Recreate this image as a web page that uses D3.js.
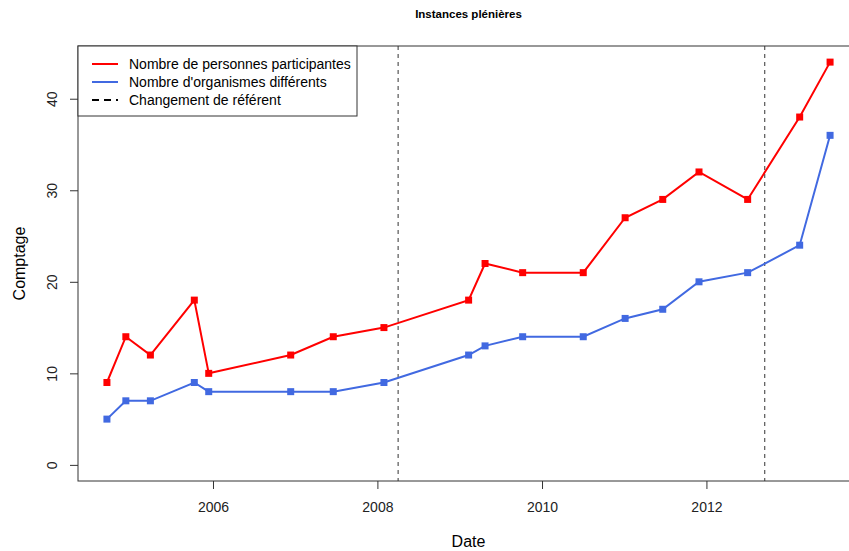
<!DOCTYPE html>
<html>
<head>
<meta charset="utf-8">
<script src="https://cdn.jsdelivr.net/npm/d3@7"></script>
<style>
  html, body { margin: 0; padding: 0; background: #fff; }
  svg { display: block; font-family: "Liberation Sans", Arial, sans-serif; }
</style>
</head>
<body>
<script>
// ---- Data ----
const dates = ["2004-09-17","2004-12-10","2005-03-29","2005-10-10","2005-12-13","2006-12-12",
  "2007-06-19","2008-01-30","2009-02-09","2009-04-23","2009-10-07","2010-07-03",
  "2011-01-05","2011-06-21","2011-11-29","2012-07-02","2013-02-18","2013-07-03"];
const participants = [9,14,12,18,10,12,14,15,18,22,21,21,27,29,32,29,38,44];
const organismes   = [5,7,7,9,8,8,8,9,12,13,14,14,16,17,20,21,24,36];
const changeDates = ["2008-04-02","2012-09-16"];
const xTickYears = [2006, 2008, 2010, 2012];
const yTicks = [0, 10, 20, 30, 40];
const legendLabels = ["Nombre de personnes participantes","Nombre d'organismes différents","Changement de référent"];
const title = "Instances plénières";
const xLabel = "Date";
const yLabel = "Comptage";

// ---- Layout ----
const W = 849, H = 551;
const plot = {left: 78, right: 859, top: 46, bottom: 481};
const parse = d3.timeParse("%Y-%m-%d");
const pts = dates.map((d, i) => ({date: parse(d), p: participants[i], o: organismes[i]}));
const changes = changeDates.map(parse);

// R-style 4% extension
const ext = d3.extent(pts, d => +d.date);
const pad = (ext[1] - ext[0]) * 0.04;
const x = d3.scaleTime().domain([new Date(ext[0] - pad), new Date(ext[1] + pad)])
  .range([plot.left, plot.right]);
const yMax = d3.max(participants), yMin = 0;
const ypad = (yMax - yMin) * 0.04;
const y = d3.scaleLinear().domain([yMin - ypad, yMax + ypad]).range([plot.bottom, plot.top]);

const svg = d3.select("body").append("svg").attr("width", W).attr("height", H);

// title
svg.append("text").attr("x", (plot.left + plot.right) / 2).attr("y", 18)
  .attr("text-anchor", "middle").attr("font-weight", "bold").attr("font-size", 11.5)
  .attr("fill", "#000").text(title);

// axes
const xAxis = d3.axisBottom(x)
  .tickValues(xTickYears.map(yr => new Date(yr, 0, 1)))
  .tickFormat(d3.timeFormat("%Y")).tickSize(8).tickPadding(13);
const gx = svg.append("g").attr("transform", `translate(0,${plot.bottom})`).call(xAxis);
gx.select(".domain").remove();
gx.selectAll("text").attr("font-size", 14).attr("fill", "#222").attr("font-family", "Liberation Sans, Arial, sans-serif");
gx.selectAll("line").attr("stroke", "#333");

const yAxis = d3.axisLeft(y).tickValues(yTicks).tickSize(8).tickPadding(0);
const gy = svg.append("g").attr("transform", `translate(${plot.left},0)`).call(yAxis);
gy.select(".domain").remove();
gy.selectAll("line").attr("stroke", "#333");
gy.selectAll("text").remove();
gy.selectAll(".tick").append("text")
  .attr("transform", "translate(-21,0) rotate(-90)")
  .attr("text-anchor", "middle").attr("dy", 0)
  .attr("font-size", 14).attr("fill", "#222")
  .attr("font-family", "Liberation Sans, Arial, sans-serif")
  .text(d => d);

// box
svg.append("rect").attr("x", plot.left).attr("y", plot.top)
  .attr("width", plot.right - plot.left).attr("height", plot.bottom - plot.top)
  .attr("fill", "none").attr("stroke", "#333").attr("stroke-width", 1);

// axis labels
svg.append("text").attr("x", (plot.left + plot.right) / 2).attr("y", 547)
  .attr("text-anchor", "middle").attr("font-size", 16).attr("fill", "#000").text(xLabel);
svg.append("text").attr("transform", `translate(25,${(plot.top + plot.bottom) / 2}) rotate(-90)`)
  .attr("text-anchor", "middle").attr("font-size", 16).attr("fill", "#000").text(yLabel);

// vertical dashed lines
svg.selectAll("line.chg").data(changes).enter().append("line")
  .attr("class", "chg")
  .attr("x1", d => x(d)).attr("x2", d => x(d))
  .attr("y1", plot.top).attr("y2", plot.bottom)
  .attr("stroke", "#333").attr("stroke-width", 1).attr("stroke-dasharray", "4,4");

// series
const series = [
  {key: "p", color: "#FF0000"},
  {key: "o", color: "#4169E1"}
];
series.forEach(s => {
  const line = d3.line().x(d => x(d.date)).y(d => y(d[s.key]));
  svg.append("path").datum(pts).attr("d", line)
    .attr("fill", "none").attr("stroke", s.color).attr("stroke-width", 2);
  svg.selectAll(null).data(pts).enter().append("rect")
    .attr("x", d => x(d.date) - 3.5).attr("y", d => y(d[s.key]) - 3.5)
    .attr("width", 7).attr("height", 7).attr("fill", s.color);
});

// legend
const lg = svg.append("g");
lg.append("rect").attr("x", plot.left).attr("y", plot.top)
  .attr("width", 279).attr("height", 70)
  .attr("fill", "#fff").attr("stroke", "#333").attr("stroke-width", 1);
const legendStyles = [
  {color: "#FF0000", dash: null},
  {color: "#4169E1", dash: null},
  {color: "#000", dash: "7,5"}
];
legendLabels.forEach((lab, i) => {
  const yy = 64 + i * 18;
  lg.append("line").attr("x1", 92).attr("x2", 118).attr("y1", yy).attr("y2", yy)
    .attr("stroke", legendStyles[i].color).attr("stroke-width", 2)
    .attr("stroke-dasharray", legendStyles[i].dash);
  lg.append("text").attr("x", 129).attr("y", yy + 5)
    .attr("font-size", 14).attr("fill", "#000").text(lab);
});
</script>
</body>
</html>
